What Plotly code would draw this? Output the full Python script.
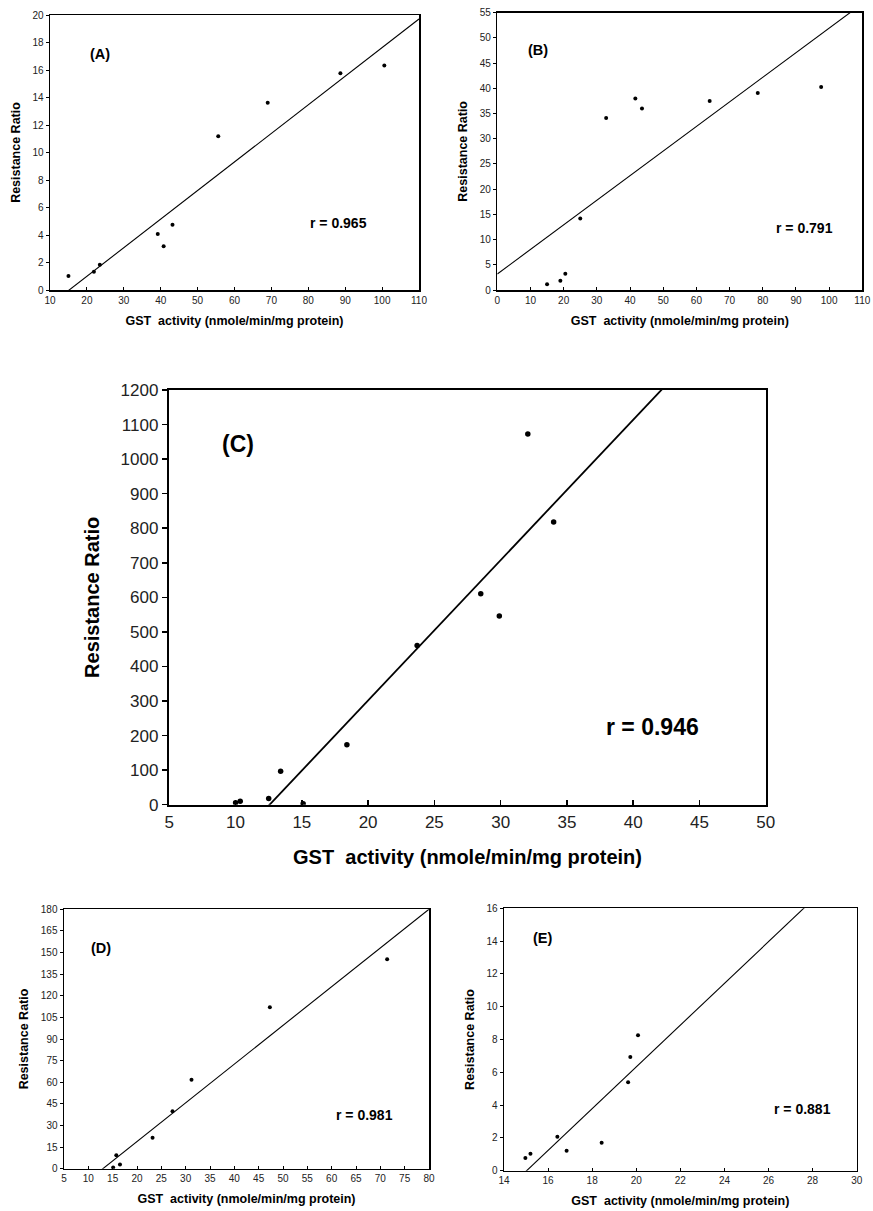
import plotly.graph_objects as go

# ---------------- data ----------------
a_x = [15.0, 21.9, 23.5, 39.2, 40.8, 43.2, 55.6, 69.0, 88.7, 100.6]
a_y = [1.02, 1.33, 1.84, 4.07, 3.18, 4.75, 11.18, 13.62, 15.76, 16.32]
a_fit = (0.2079, -3.16)   # slope, intercept
a_r = "r = 0.965"

b_x = [15.0, 19.0, 20.5, 25.0, 32.8, 41.6, 43.6, 64.0, 78.5, 97.6]
b_y = [1.12, 1.85, 3.24, 14.2, 34.1, 38.0, 36.0, 37.5, 39.06, 40.25]
b_fit = (0.4876, 3.17)
b_r = "r = 0.791"

c_x = [10.0, 10.35, 12.5, 13.4, 15.1, 18.4, 23.7, 28.5, 29.9, 32.05, 34.0]
c_y = [6, 10, 18, 96.5, 3, 173.6, 461, 610.6, 546, 1072.6, 818]
c_fit = (40.6, -510.3)
c_r = "r = 0.946"

d_x = [15.1, 15.75, 16.5, 23.2, 27.3, 31.2, 47.3, 71.4]
d_y = [0.9, 9.25, 3.0, 21.5, 39.8, 61.8, 112, 145.3]
d_fit = (2.687, -34.9)
d_r = "r = 0.981"

e_x = [14.97, 15.2, 16.42, 16.84, 18.43, 19.63, 19.73, 20.08]
e_y = [0.77, 1.04, 2.07, 1.22, 1.71, 5.39, 6.93, 8.26]
e_fit = (1.273, -19.13)
e_r = "r = 0.881"

x_title = "GST\u00a0 activity (nmole/min/mg protein)"
y_title = "Resistance Ratio"

# ---------------- layout / styling ----------------
W, H = 873, 1211
FONT = "Arial, 'Liberation Sans', sans-serif"

def dom_x(l, r):
    return [l / W, r / W]

def dom_y(t, b):
    return [1 - b / H, 1 - t / H]

panels = [
    dict(label="(A)", x=a_x, y=a_y, fit=a_fit, r=a_r,
         xr=[10, 110], xd=10, yr=[0, 20], yd=2,
         dx=dom_x(50, 419), dy=dom_y(15, 290),
         lab_pos=(23.6, 17.2), r_pos=(88.1, 4.9),
         big=False),
    dict(label="(B)", x=b_x, y=b_y, fit=b_fit, r=b_r,
         xr=[0, 110], xd=10, yr=[0, 55], yd=5,
         dx=dom_x(497.3, 862.3), dy=dom_y(12.7, 290),
         lab_pos=(12.4, 47.6), r_pos=(92.6, 12.2),
         big=False),
    dict(label="(C)", x=c_x, y=c_y, fit=c_fit, r=c_r,
         xr=[5, 50], xd=5, yr=[0, 1200], yd=100,
         dx=dom_x(169.3, 765.7), dy=dom_y(390, 804.7),
         lab_pos=(10.2, 1045), r_pos=(41.45, 226),
         big=True),
    dict(label="(D)", x=d_x, y=d_y, fit=d_fit, r=d_r,
         xr=[5, 80], xd=5, yr=[0, 180], yd=15,
         dx=dom_x(64, 429), dy=dom_y(909.3, 1168.7),
         lab_pos=(12.6, 153.2), r_pos=(66.7, 37.3),
         big=False),
    dict(label="(E)", x=e_x, y=e_y, fit=e_fit, r=e_r,
         xr=[14, 30], xd=2, yr=[0, 16], yd=2,
         dx=dom_x(504, 856.7), dy=dom_y(908.3, 1170.7),
         lab_pos=(15.75, 14.2), r_pos=(27.54, 3.74),
         big=False),
]

fig = go.Figure()
annotations = []
layout = dict(width=W, height=H, margin=dict(l=0, r=0, t=0, b=0),
              paper_bgcolor="white", plot_bgcolor="white",
              showlegend=False, font=dict(family=FONT, color="black"))

for i, p in enumerate(panels, start=1):
    xa = "x" if i == 1 else f"x{i}"
    ya = "y" if i == 1 else f"y{i}"
    big = p["big"]
    fig.add_trace(go.Scatter(x=p["x"], y=p["y"], mode="markers",
                             marker=dict(color="black", size=5.5 if big else 4),
                             xaxis=xa, yaxis=ya, hoverinfo="skip"))
    m, b = p["fit"]
    lx = [p["xr"][0], p["xr"][1]]
    ly = [m * v + b for v in lx]
    fig.add_trace(go.Scatter(x=lx, y=ly, mode="lines",
                             line=dict(color="black", width=1.8 if big else 1.1),
                             xaxis=xa, yaxis=ya, hoverinfo="skip"))
    tick_fs = 17 if big else 10
    title_fs = 20 if big else 12.5
    lw = 2.5 if big else 1.5
    common = dict(showgrid=False, zeroline=False, showline=True, mirror=True,
                  automargin=False, ticklabeloverflow="allow",
                  linecolor="black", linewidth=lw, tickcolor="black",
                  tickwidth=1.5 if big else 1, ticklen=5 if big else 3,
                  tickfont=dict(family=FONT, size=tick_fs, color="#222"))
    xkey = "xaxis" if i == 1 else f"xaxis{i}"
    ykey = "yaxis" if i == 1 else f"yaxis{i}"
    layout[xkey] = dict(common, domain=p["dx"], anchor=ya, range=p["xr"],
                        dtick=p["xd"], tick0=p["xr"][0], ticks="inside",
                        title=dict(text=x_title, standoff=20 if big else 11,
                                   font=dict(family=FONT, size=title_fs,
                                             weight="bold", color="black")))
    layout[ykey] = dict(common, domain=p["dy"], anchor=xa, range=p["yr"],
                        dtick=p["yd"], tick0=0, ticks="outside",
                        title=dict(text=y_title, standoff=16 if big else 9,
                                   font=dict(family=FONT, size=title_fs,
                                             weight="bold", color="black")))
    annotations.append(dict(x=p["lab_pos"][0], y=p["lab_pos"][1], xref=xa, yref=ya,
                            text=f"<b>{p['label']}</b>", showarrow=False,
                            font=dict(family=FONT, size=23 if big else 14.5,
                                      color="black")))
    annotations.append(dict(x=p["r_pos"][0], y=p["r_pos"][1], xref=xa, yref=ya,
                            text=f"<b>{p['r']}</b>", showarrow=False,
                            font=dict(family=FONT, size=23 if big else 14,
                                      color="black")))

layout["annotations"] = annotations
fig.update_layout(**layout)
# remove the browser's default 8px body margin so the figure fills the window
fig.write_html("out.html",
               config={"displayModeBar": False, "staticPlot": True},
               post_script="document.body.style.margin='0px';"
                           "document.body.style.overflow='hidden';")
